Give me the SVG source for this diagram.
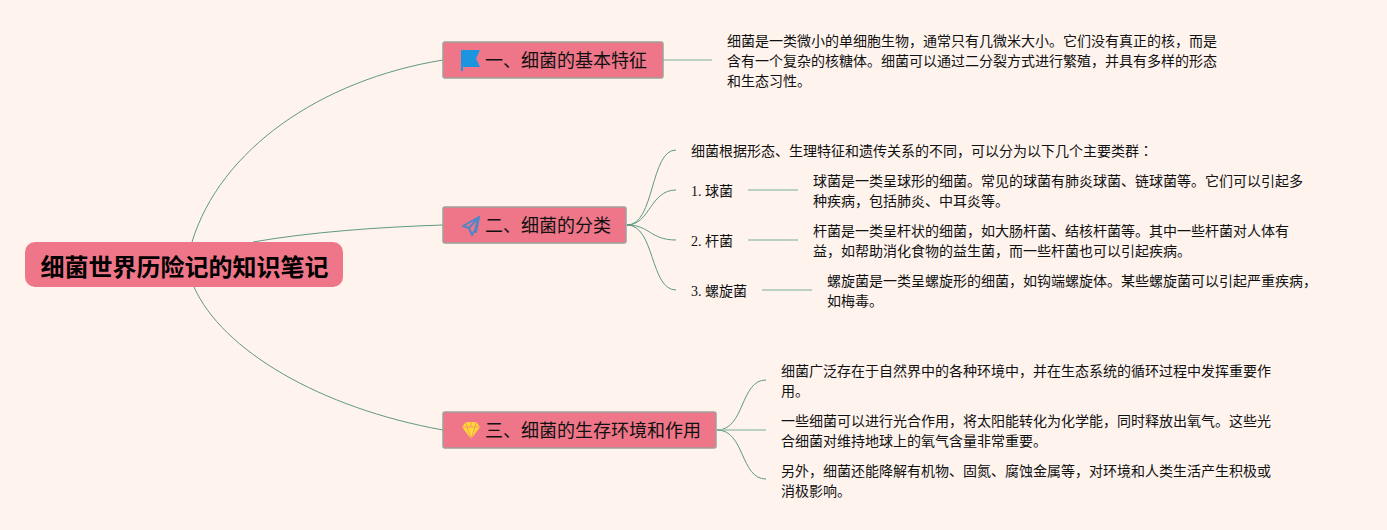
<svg xmlns="http://www.w3.org/2000/svg" width="1387" height="530" viewBox="0 0 1387 530">
<style>
text{font-family:"Liberation Serif","Noto Sans CJK SC",sans-serif;fill:#111}
.t{font-size:14px}
.b{font-size:18px}
.r{font-size:24px;font-weight:700;fill:#000}
.jp{font-family:"Noto Sans CJK TC",sans-serif}
.box{fill:#ee7688;stroke:#a0a09a;stroke-width:1.5}
.c{fill:none;stroke:#5f9a80;stroke-width:1}
.s{fill:none;stroke:#a5c4b4;stroke-width:1.5}
</style>
<rect width="1387" height="530" fill="#fef3ed"/>
<g id="connectors">
<path class="c" d="M192 242C220 150 320 80 443 60"/>
<path class="c" d="M253 242C310 232 380 227 443 225"/>
<path class="c" d="M194 287C222 350 320 408 443 430"/>
<path class="s" d="M663 60H712"/>
<path class="c" d="M627 225C655 225 650 150 676 150"/>
<path class="c" d="M627 225C650 225 650 190 676 190"/>
<path class="c" d="M627 225C650 225 650 240 676 240"/>
<path class="c" d="M627 225C655 225 650 290 676 290"/>
<path class="s" d="M748 190H798"/>
<path class="s" d="M748 240H798"/>
<path class="s" d="M762 290H812"/>
<path class="c" d="M717 430C745 430 740 380 766 380"/>
<path class="s" d="M717 430H766"/>
<path class="c" d="M717 430C745 430 740 479 766 479"/>
</g>
<g id="root"><rect x="25" y="242" width="318" height="45" rx="10" fill="#ee7688"/><text class="r" x="40.5" y="276">细菌世界历险记的知识笔记</text></g>
<g id="branch1"><rect class="box" x="443" y="42" width="220" height="36" rx="2"/>
<path d="M461 50H480L476 58.500L480 67H463V71H461Z" fill="#1c95e0"/>
<text class="b" x="485" y="67">一、细菌的基本特征</text></g>
<g id="branch2"><rect class="box" x="443" y="207" width="183" height="36" rx="2"/>
<path d="M479 217L463 226L469 228L472 235L475 230L476 232ZM469 228L479 217L475 230" fill="none" stroke="#4f86c6" stroke-width="2" stroke-linejoin="round"/>
<text class="b" x="485" y="232">二、细菌的分类</text></g>
<g id="branch3"><rect class="box" x="443" y="412" width="273" height="36" rx="2"/>
<path d="M466 422H476L480 427L471 439L462 427Z" fill="#fdd835"/>
<path d="M462 427H480M467 427L471 439L475 427M466 422L467 427M476 422L475 427M471 422V427" fill="none" stroke="#ee7688" stroke-width="0.6"/>
<text class="b" x="485" y="437">三、细菌的生存环境和作用</text></g>
<g id="text1"><text class="t" x="727" y="46">细菌是一类微小的单细胞生物，通常只有几微米大小。它们没有真正的核，而是</text><text class="t" x="727" y="66">含有一个复杂的核糖体。细菌可以通过二分裂方式进行繁殖，并具有多样的形态</text><text class="t" x="727" y="86">和生态习性。</text></g>
<g id="text2"><text class="t" x="691" y="156">细菌根据形态、生理特征和遗传关系的不同，可以分为以下几个主要类群<tspan class="jp">：</tspan></text></g>
<g id="kind1"><text class="t" x="691" y="196">1. 球菌</text></g>
<g id="kind1d"><text class="t" x="813" y="186">球菌是一类呈球形的细菌。常见的球菌有肺炎球菌、链球菌等。它们可以引起多</text><text class="t" x="813" y="206">种疾病，包括肺炎、中耳炎等。</text></g>
<g id="kind2"><text class="t" x="691" y="246">2. 杆菌</text></g>
<g id="kind2d"><text class="t" x="813" y="236">杆菌是一类呈杆状的细菌，如大肠杆菌、结核杆菌等。其中一些杆菌对人体有</text><text class="t" x="813" y="256">益，如帮助消化食物的益生菌，而一些杆菌也可以引起疾病。</text></g>
<g id="kind3"><text class="t" x="691" y="296">3. 螺旋菌</text></g>
<g id="kind3d"><text class="t" x="827" y="286">螺旋菌是一类呈螺旋形的细菌，如钩端螺旋体。某些螺旋菌可以引起严重疾病，</text><text class="t" x="827" y="306">如梅毒。</text></g>
<g id="env1"><text class="t" x="781" y="376">细菌广泛存在于自然界中的各种环境中，并在生态系统的循环过程中发挥重要作</text><text class="t" x="781" y="396">用。</text></g>
<g id="env2"><text class="t" x="781" y="426">一些细菌可以进行光合作用，将太阳能转化为化学能，同时释放出氧气。这些光</text><text class="t" x="781" y="446">合细菌对维持地球上的氧气含量非常重要。</text></g>
<g id="env3"><text class="t" x="781" y="476">另外，细菌还能降解有机物、固氮、腐蚀金属等，对环境和人类生活产生积极或</text><text class="t" x="781" y="496">消极影响。</text></g>
</svg>
